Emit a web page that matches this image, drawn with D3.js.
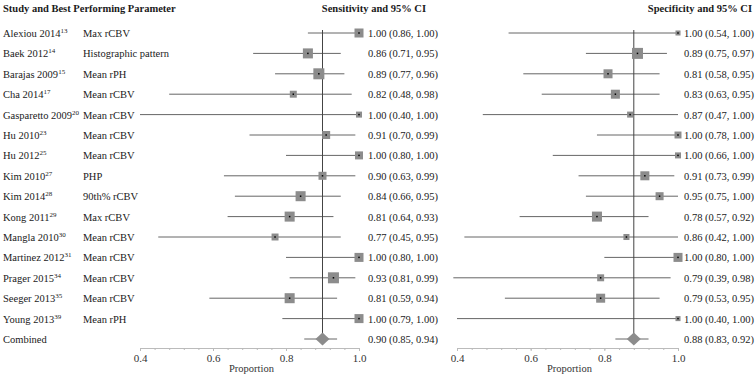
<!DOCTYPE html>
<html>
<head>
<meta charset="utf-8">
<script src="https://cdn.jsdelivr.net/npm/d3@7"></script>
<style>
  body { margin: 0; background: #fff; }
  svg text { font-family: "Liberation Serif", "Times New Roman", serif; fill: #1a1a1a; }
  .axis path, .axis line { stroke: #bbb; }
  .axis text { font-size: 11px; fill: #333; }
</style>
</head>
<body>
<div id="vis"></div>
<script>
// data
var studies = ["Alexiou 2014", "Baek 2012", "Barajas 2009", "Cha 2014", "Gasparetto 2009",
    "Hu 2010", "Hu 2012", "Kim 2010", "Kim 2014", "Kong 2011", "Mangla 2010",
    "Martinez 2012", "Prager 2015", "Seeger 2013", "Young 2013"];
var refs = ["13", "14", "15", "17", "20", "23", "25", "27", "28", "29", "30", "31", "34", "35", "39"];
var params = ["Max rCBV", "Histographic pattern", "Mean rPH", "Mean rCBV", "Mean rCBV",
    "Mean rCBV", "Mean rCBV", "PHP", "90th% rCBV", "Max rCBV", "Mean rCBV",
    "Mean rCBV", "Mean rCBV", "Mean rCBV", "Mean rPH"];

var sens    = [1.00, 0.86, 0.89, 0.82, 1.00, 0.91, 1.00, 0.90, 0.84, 0.81, 0.77, 1.00, 0.93, 0.81, 1.00];
var sensLo  = [0.86, 0.71, 0.77, 0.48, 0.40, 0.70, 0.80, 0.63, 0.66, 0.64, 0.45, 0.80, 0.81, 0.59, 0.79];
var sensHi  = [1.00, 0.95, 0.96, 0.98, 1.00, 0.99, 1.00, 0.99, 0.95, 0.93, 0.95, 1.00, 0.99, 0.94, 1.00];
var sensW   = [6.7, 8.3, 10, 4.0, 3.0, 5.3, 5.3, 5.3, 8.3, 8.3, 4.0, 6.7, 10, 8.3, 6.7];

var spec    = [1.00, 0.89, 0.81, 0.83, 0.87, 1.00, 1.00, 0.91, 0.95, 0.78, 0.86, 1.00, 0.79, 0.79, 1.00];
var specLo  = [0.54, 0.75, 0.58, 0.63, 0.47, 0.78, 0.66, 0.73, 0.75, 0.57, 0.42, 0.80, 0.39, 0.53, 0.40];
var specHi  = [1.00, 0.97, 0.95, 0.95, 1.00, 1.00, 1.00, 0.99, 1.00, 0.92, 1.00, 1.00, 0.98, 0.95, 1.00];
var specW   = [2.1, 10, 6.7, 6.7, 3.0, 4.0, 3.0, 6.7, 5.3, 8.3, 3.0, 6.7, 4.0, 6.7, 2.1];

var combined = {sens: [0.90, 0.85, 0.94], spec: [0.88, 0.83, 0.92]};
var majorTicks = [0.4, 0.6, 0.8, 1.0];

var width = 756, height = 374;
var fmt = d3.format(".2f");
var serif = "'Liberation Serif', 'Times New Roman', serif";

var svg = d3.select("#vis").append("svg")
    .attr("width", width)
    .attr("height", height);

// rows
var rowNames = studies.concat(["Combined"]);
var y = d3.scalePoint().domain(d3.range(rowNames.length)).range([33, 339]);

var size = d3.scaleSqrt().domain([0, 10]).range([0, 11]);

// left labels
svg.append("text")
    .attr("x", 3).attr("y", 12)
    .style("font-weight", "bold").style("font-size", "10.5px")
    .text("Study and Best Performing Parameter");

var lab = svg.append("g").selectAll("text")
    .data(rowNames)
    .enter().append("text")
    .attr("x", 3)
    .attr("y", function(d, i) { return y(i) + 4; })
    .style("font-size", "10.5px")
    .text(function(d) { return d; });

lab.filter(function(d, i) { return i < refs.length; })
    .append("tspan")
    .attr("dy", -4)
    .style("font-size", "7px")
    .text(function(d, i) { return refs[i]; });

svg.append("g").selectAll("text")
    .data(params)
    .enter().append("text")
    .attr("x", 83)
    .attr("y", function(d, i) { return y(i) + 4; })
    .style("font-size", "10.5px")
    .text(function(d) { return d; });

function panel(x0, x1, est, lo, hi, w, comb, title, titleRight, textRight) {
    var x = d3.scaleLinear().domain([0.4, 1.0]).range([x0, x1]);
    var g = svg.append("g");

    g.append("text")
        .attr("x", titleRight).attr("y", 12)
        .attr("text-anchor", "end")
        .style("font-weight", "bold").style("font-size", "10.5px")
        .text(title);

    // axis, minor then major ticks
    g.append("g")
        .attr("class", "axis")
        .attr("transform", "translate(0,348)")
        .call(d3.axisBottom(x).tickValues(d3.range(0.4, 1.001, 0.04)).tickSize(2).tickSizeOuter(0).tickFormat(""));
    g.append("g")
        .attr("class", "axis")
        .attr("transform", "translate(0,348)")
        .call(d3.axisBottom(x).tickValues(majorTicks).tickSize(3).tickSizeOuter(0).tickFormat(d3.format(".1f")))
        .attr("font-family", serif)
        .call(function(a) { a.select(".domain").remove(); });

    g.append("text")
        .attr("x", x(0.7) + 2).attr("y", 372)
        .attr("text-anchor", "middle")
        .style("font-size", "10.5px").style("fill", "#333")
        .text("Proportion");

    // CI lines
    g.selectAll(".ci")
        .data(est)
        .enter().append("line")
        .attr("x1", function(d, i) { return x(lo[i]); })
        .attr("x2", function(d, i) { return x(hi[i]); })
        .attr("y1", function(d, i) { return y(i); })
        .attr("y2", function(d, i) { return y(i); })
        .attr("stroke", "#666").attr("stroke-width", 1);

    g.append("line")
        .attr("x1", x(comb[1])).attr("x2", x(comb[2]))
        .attr("y1", y(15)).attr("y2", y(15))
        .attr("stroke", "#666").attr("stroke-width", 1);

    // reference line at combined estimate
    g.append("line")
        .attr("x1", x(comb[0])).attr("x2", x(comb[0]))
        .attr("y1", 30).attr("y2", y(15))
        .attr("stroke", "#444").attr("stroke-width", 1);

    // squares
    g.selectAll(".sq")
        .data(est)
        .enter().append("rect")
        .attr("x", function(d, i) { return x(d) - size(w[i]) / 2; })
        .attr("y", function(d, i) { return y(i) - size(w[i]) / 2; })
        .attr("width", function(d, i) { return size(w[i]); })
        .attr("height", function(d, i) { return size(w[i]); })
        .attr("fill", "#8c8c8c");

    g.selectAll(".dot")
        .data(est)
        .enter().append("rect")
        .attr("x", function(d) { return x(d) - 0.75; })
        .attr("y", function(d, i) { return y(i) - 0.75; })
        .attr("width", 1.5).attr("height", 1.5)
        .attr("fill", "#000");

    // diamond
    var cx = x(comb[0]), cy = y(15);
    g.append("path")
        .attr("d", "M" + (cx - 7) + "," + cy + "L" + cx + "," + (cy - 6.5) + "L" + (cx + 7) + "," + cy + "L" + cx + "," + (cy + 6.5) + "Z")
        .attr("fill", "#8c8c8c");

    // value text
    g.selectAll(".val")
        .data(est.concat([comb[0]]))
        .enter().append("text")
        .attr("x", textRight)
        .attr("y", function(d, i) { return y(i) + 4; })
        .attr("text-anchor", "end")
        .style("font-size", "10.5px")
        .text(function(d, i) {
            var l = i < lo.length ? lo[i] : comb[1];
            var h = i < hi.length ? hi[i] : comb[2];
            return fmt(d) + " (" + fmt(l) + ", " + fmt(h) + ")";
        });
}

panel(140, 359, sens, sensLo, sensHi, sensW, combined.sens, "Sensitivity and 95% CI", 426, 438);
panel(457, 678, spec, specLo, specHi, specW, combined.spec, "Specificity and 95% CI", 752, 754);
</script>
</body>
</html>
